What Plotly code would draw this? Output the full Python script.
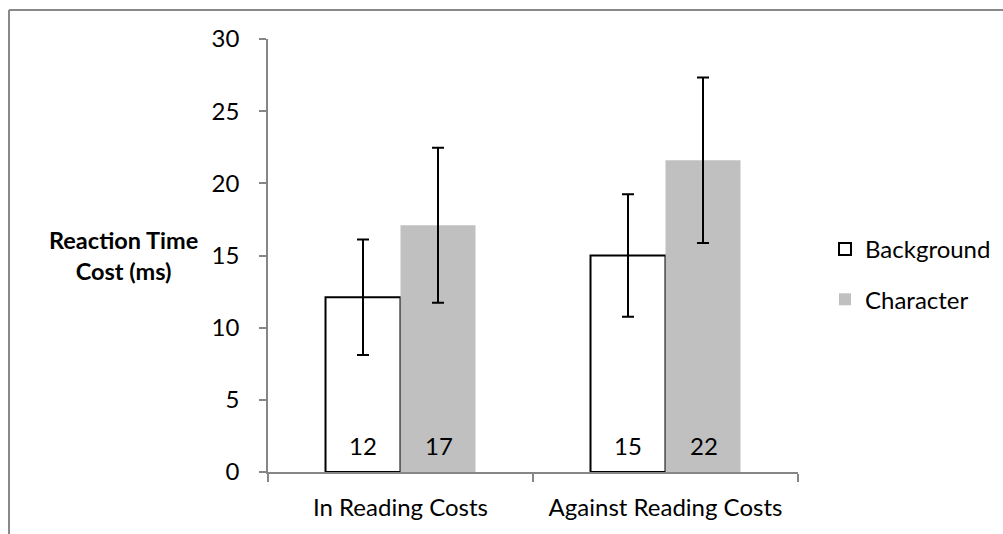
import plotly.graph_objects as go

categories = ["In Reading Costs", "Against Reading Costs"]
background = [12.1, 15.0]
background_err = [4.0, 4.25]
character = [17.1, 21.6]
character_err = [5.37, 5.73]
y_ticks = [0, 5, 10, 15, 20, 25, 30]

FONT = "Lato"
SIZE = 24
AXIS_GRAY = "#868686"

fig = go.Figure()

fig.add_trace(go.Bar(
    name="Background",
    x=categories,
    y=background,
    marker=dict(color="white", line=dict(color="black", width=2)),
    error_y=dict(type="data", array=background_err, color="black", thickness=2, width=6),
    legendgroup="a",
))

fig.add_trace(go.Bar(
    name="Character",
    x=categories,
    y=character,
    marker=dict(color="#C0C0C0", line=dict(color="#C0C0C0", width=0)),
    error_y=dict(type="data", array=character_err, color="black", thickness=2, width=6),
    legendgroup="b",
))

# value labels near the base of each bar (left bar / right bar of each group)
labels = []
for series, shift in ((background, -38), (character, 38)):
    for cat, val in zip(categories, series):
        labels.append(dict(
            text=f"{val:.0f}",
            xref="x", yref="y",
            x=cat, y=0,
            xshift=shift, yshift=27,
            xanchor="center", yanchor="middle",
            showarrow=False,
            font=dict(family=FONT, size=SIZE, color="black"),
        ))

labels.append(dict(
    text="<b>Reaction Time<br>Cost (ms)</b>",
    xref="paper", yref="y",
    x=-0.272, y=15,
    xanchor="center", yanchor="middle",
    showarrow=False,
    font=dict(family=FONT, size=23.5, color="black"),
))

frame_top = (534 - 10 - 62) / 433
frame_left = (9 - 268) / 530

fig.update_layout(
    width=1003,
    height=534,
    margin=dict(l=268, r=205, t=39, b=62),
    paper_bgcolor="white",
    plot_bgcolor="white",
    barmode="group",
    bargap=0.434,
    bargroupgap=0,
    font=dict(family=FONT, size=SIZE, color="black"),
    showlegend=True,
    legend=dict(
        xref="container", yref="container",
        x=825 / 1003, xanchor="left",
        y=(534 - 274.5) / 534, yanchor="middle",
        font=dict(family=FONT, size=SIZE, color="black"),
        tracegroupgap=16,
        traceorder="grouped",
        bgcolor="rgba(0,0,0,0)",
    ),
    xaxis=dict(
        type="category",
        tickson="boundaries",
        ticks="outside",
        ticklen=8,
        tickcolor=AXIS_GRAY,
        tickwidth=1.5,
        showline=True,
        linecolor=AXIS_GRAY,
        linewidth=1.5,
        showgrid=False,
        ticklabelstandoff=13,
        tickfont=dict(family=FONT, size=SIZE, color="black"),
    ),
    yaxis=dict(
        range=[0, 30],
        tickvals=y_ticks,
        ticks="outside",
        ticklen=7,
        tickcolor=AXIS_GRAY,
        tickwidth=1.5,
        showline=True,
        linecolor=AXIS_GRAY,
        linewidth=1.5,
        showgrid=False,
        zeroline=False,
        ticklabelstandoff=15,
        tickfont=dict(family=FONT, size=SIZE, color="black"),
    ),
    annotations=labels,
    shapes=[
        # outer frame (left and top edges)
        dict(type="line", xref="paper", yref="paper",
             x0=frame_left, x1=frame_left, y0=-1, y1=frame_top,
             line=dict(color="#898989", width=2)),
        dict(type="line", xref="paper", yref="paper",
             x0=frame_left, x1=2, y0=frame_top, y1=frame_top,
             line=dict(color="#898989", width=2)),
    ],
)

fig.write_html("out.html")
